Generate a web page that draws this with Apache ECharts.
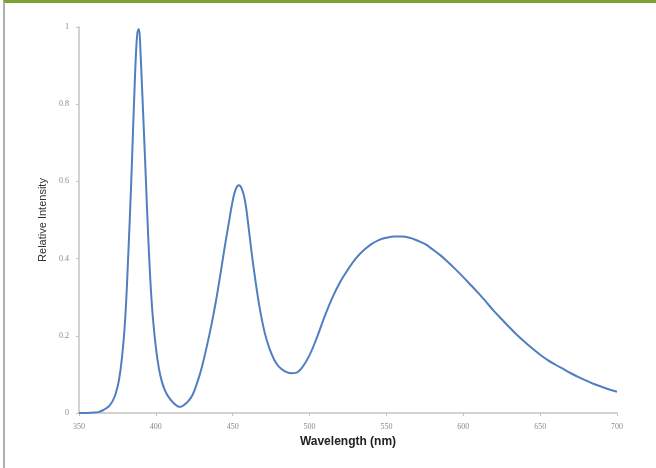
<!DOCTYPE html>
<html>
<head>
<meta charset="utf-8">
<script src="https://cdn.jsdelivr.net/npm/echarts@6/dist/echarts.min.js"></script>
<style>
html, body { margin: 0; padding: 0; background: #fff; }
.frame {
    position: relative;
    height: 468px;
    box-sizing: border-box;
    border-top: 3px solid #7aa42f;
    border-left: 2px solid #a9b3ae;
    margin-left: 3px;
    width: 653px;
}
#chart { position: absolute; left: -5px; top: -3px; width: 656px; height: 468px; }
</style>
</head>
<body>
<div class="frame"><div id="chart"></div></div>
<script>
var wavelength = [350, 355, 360, 363, 366, 368, 370, 372, 374, 376, 378, 380, 382, 384, 385, 386, 387, 388, 389, 390, 391, 392, 393, 394, 395, 396, 397, 398, 400, 402, 404, 406, 408, 411, 414, 416, 418, 421, 424, 427, 430, 433, 436, 439, 442, 445, 448, 450, 452, 454, 456, 458, 460, 462, 464, 466, 468, 471, 474, 477, 480, 484, 488, 491, 495, 500, 505, 510, 515, 520, 525, 530, 535, 540, 545, 550, 555, 560, 565, 570, 575, 580, 585, 590, 595, 600, 605, 610, 615, 620, 625, 630, 635, 640, 645, 650, 655, 660, 665, 670, 675, 680, 685, 690, 695, 700];
var intensity = [0, 0, 0.001, 0.003, 0.008, 0.013, 0.02, 0.032, 0.052, 0.085, 0.145, 0.24, 0.405, 0.60, 0.715, 0.825, 0.925, 0.985, 0.995, 0.935, 0.845, 0.75, 0.655, 0.555, 0.46, 0.375, 0.305, 0.25, 0.17, 0.115, 0.08, 0.058, 0.043, 0.028, 0.018, 0.016, 0.02, 0.03, 0.048, 0.08, 0.12, 0.17, 0.225, 0.288, 0.36, 0.435, 0.505, 0.55, 0.58, 0.59, 0.58, 0.55, 0.492, 0.425, 0.365, 0.31, 0.262, 0.205, 0.166, 0.138, 0.12, 0.108, 0.103, 0.104, 0.117, 0.15, 0.198, 0.252, 0.30, 0.34, 0.372, 0.40, 0.421, 0.437, 0.448, 0.454, 0.457, 0.457, 0.454, 0.447, 0.438, 0.424, 0.409, 0.391, 0.372, 0.352, 0.331, 0.31, 0.287, 0.264, 0.243, 0.222, 0.202, 0.184, 0.167, 0.151, 0.137, 0.125, 0.114, 0.103, 0.093, 0.084, 0.075, 0.068, 0.061, 0.055];

var chartDom = document.getElementById('chart');
var myChart = echarts.init(chartDom);

var points = wavelength.map(function (w, i) { return [w, intensity[i]]; });

var option = {
    animation: false,
    backgroundColor: 'transparent',
    grid: { left: 79, right: 39, top: 27, bottom: 55 },
    xAxis: {
        type: 'value',
        min: 350,
        max: 700,
        interval: 50,
        name: 'Wavelength (nm)',
        nameLocation: 'middle',
        nameGap: 18,
        nameTextStyle: { fontFamily: 'Liberation Sans', fontWeight: 'bold', fontSize: 12, color: '#222' },
        axisLine: { lineStyle: { color: '#c4c4c4', width: 1.5 } },
        axisTick: { show: true, inside: false, length: 3, lineStyle: { color: '#c4c4c4' } },
        axisLabel: { fontFamily: 'Liberation Serif', fontSize: 8, color: '#8a8a8a', margin: 10 },
        splitLine: { show: false }
    },
    yAxis: {
        type: 'value',
        min: 0,
        max: 1,
        interval: 0.2,
        name: 'Relative Intensity',
        nameLocation: 'middle',
        nameGap: 29,
        nameTextStyle: { fontFamily: 'Liberation Sans', fontSize: 11, color: '#333' },
        axisLine: { show: true, lineStyle: { color: '#c4c4c4', width: 1.5 } },
        axisTick: { show: true, length: 3, lineStyle: { color: '#c4c4c4' } },
        axisLabel: { fontFamily: 'Liberation Serif', fontSize: 8, color: '#8a8a8a', margin: 10 },
        splitLine: { show: false }
    },
    series: [{
        type: 'line',
        data: points,
        smooth: 0.4,
        showSymbol: false,
        lineStyle: { color: '#4f7fc0', width: 2 }
    }]
};

myChart.setOption(option);
</script>
</body>
</html>
